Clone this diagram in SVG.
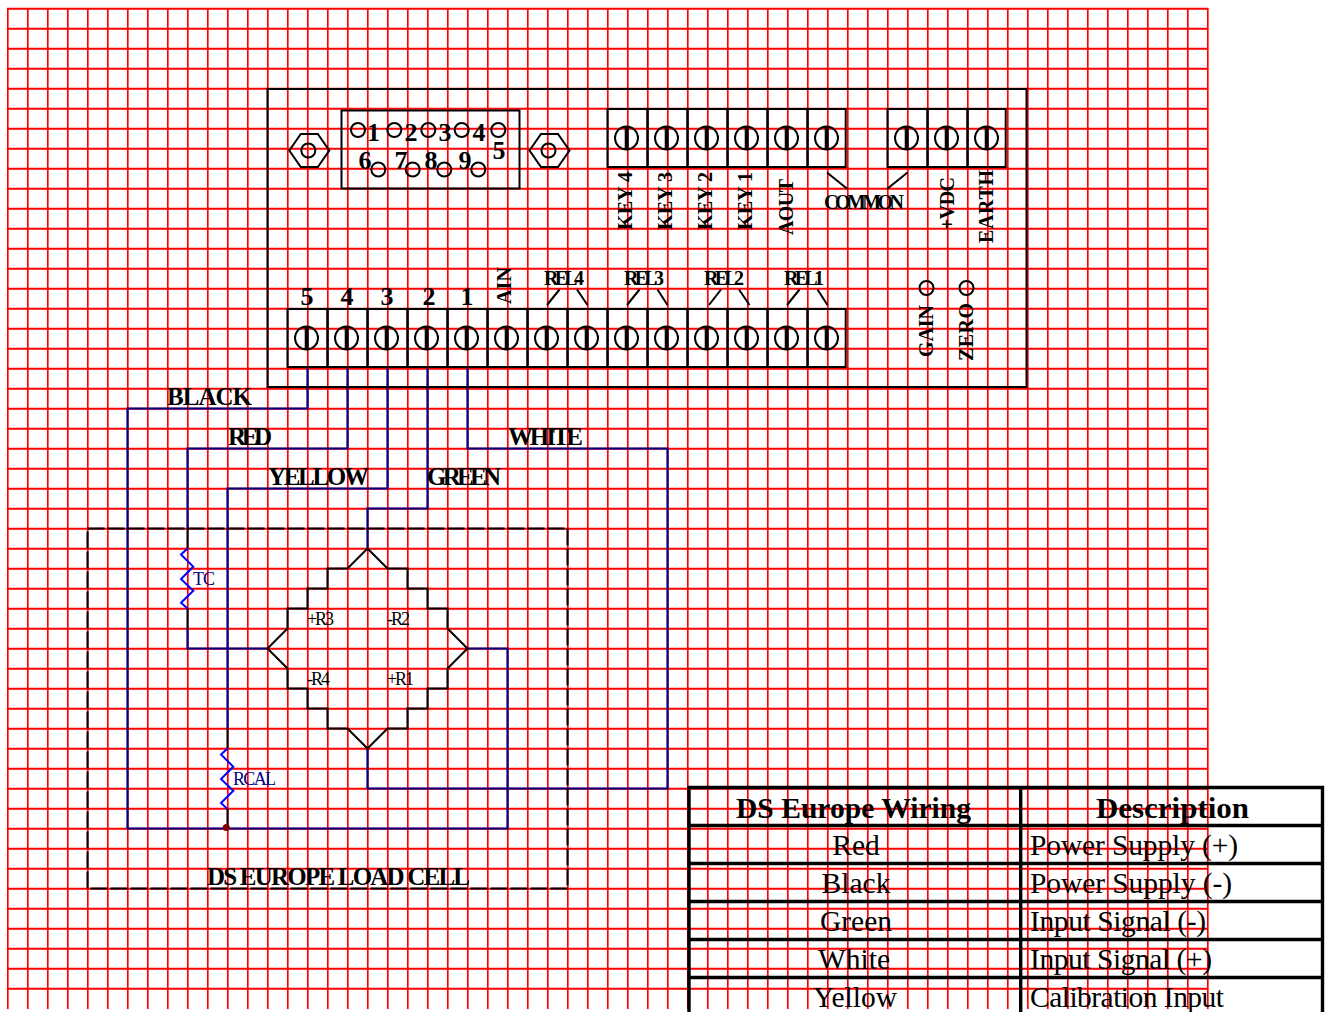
<svg xmlns="http://www.w3.org/2000/svg" width="1330" height="1012" viewBox="0 0 1330 1012">
<style>
text{font-family:"Liberation Serif","Times New Roman",serif;fill:#000}
.b{font-weight:bold}
.n{font-weight:bold;font-size:26px;text-anchor:middle}
.w{font-weight:bold;font-size:25px}
.v{font-weight:bold;font-size:20px}
.r{font-size:18px}
.bl{font-size:18px;fill:#000080}
.t{font-size:29.5px}
.h{font-size:30px}
.c{text-anchor:middle}
.k{fill:none;stroke:#000;stroke-width:2}
.wire{fill:none;stroke:#000080;stroke-width:2.2}
.res{fill:none;stroke:#0000ff;stroke-width:2}
.tb{stroke:#000;stroke-width:3.4;fill:none}
.grid{stroke:#f00;stroke-width:2;fill:none}
</style>
<defs>
<g id="screw"><circle cx="19" cy="29" r="11.5" class="k"/><line x1="19.2" y1="17" x2="19.2" y2="41" stroke="#000" stroke-width="4"/></g>
<g id="cell"><rect x="0" y="0" width="40" height="58" class="k"/><use href="#screw"/></g>
<g id="cell-end"><rect x="0" y="0" width="38.2" height="58" class="k"/><use href="#screw"/></g>
<g id="nut"><path d="M-20 0L-8.5-16.5H8.5L20 0L8.5 16.5H-8.5Z" class="k"/><circle cx="-1" cy="0" r="7" class="k"/></g>
</defs>
<g id="grid" class="grid">
<path id="grid-h" d="M7 8.7H1208M7 28.7H1208M7 48.7H1208M7 68.7H1208M7 88.7H1208M7 108.7H1208M7 128.7H1208M7 148.7H1208M7 168.7H1208M7 188.7H1208M7 208.7H1208M7 228.7H1208M7 248.7H1208M7 268.7H1208M7 288.7H1208M7 308.7H1208M7 328.7H1208M7 348.7H1208M7 368.7H1208M7 388.7H1208M7 408.7H1208M7 428.7H1208M7 448.7H1208M7 468.7H1208M7 488.7H1208M7 508.7H1208M7 528.7H1208M7 548.7H1208M7 568.7H1208M7 588.7H1208M7 608.7H1208M7 628.7H1208M7 648.7H1208M7 668.7H1208M7 688.7H1208M7 708.7H1208M7 728.7H1208M7 748.7H1208M7 768.7H1208M7 788.7H1208M7 808.7H1208M7 828.7H1208M7 848.7H1208M7 868.7H1208M7 888.7H1208M7 908.7H1208M7 928.7H1208M7 948.7H1208M7 968.7H1208M7 988.7H1208"/>
<path id="grid-v" stroke-width="1.7" d="M7.8 8V1009M27.8 8V1009M47.8 8V1009M67.8 8V1009M87.8 8V1009M107.8 8V1009M127.8 8V1009M147.8 8V1009M167.8 8V1009M187.8 8V1009M207.8 8V1009M227.8 8V1009M247.8 8V1009M267.8 8V1009M287.8 8V1009M307.8 8V1009M327.8 8V1009M347.8 8V1009M367.8 8V1009M387.8 8V1009M407.8 8V1009M427.8 8V1009M447.8 8V1009M467.8 8V1009M487.8 8V1009M507.8 8V1009M527.8 8V1009M547.8 8V1009M567.8 8V1009M587.8 8V1009M607.8 8V1009M627.8 8V1009M647.8 8V1009M667.8 8V1009M687.8 8V1009M707.8 8V1009M727.8 8V1009M747.8 8V1009M767.8 8V1009M787.8 8V1009M807.8 8V1009M827.8 8V1009M847.8 8V1009M867.8 8V1009M887.8 8V1009M907.8 8V1009M927.8 8V1009M947.8 8V1009M967.8 8V1009M987.8 8V1009M1007.8 8V1009M1027.8 8V1009M1047.8 8V1009M1067.8 8V1009M1087.8 8V1009M1107.8 8V1009M1127.8 8V1009M1147.8 8V1009M1167.8 8V1009M1187.8 8V1009M1207.8 8V1009"/>
</g>
<g id="table">
<path class="tb" d="M689 1012V787.5H1322.5V1012M1020.7 787.5V1012M689 825.5H1322.5M689 863.5H1322.5M689 901.5H1322.5M689 939.5H1322.5M689 977.5H1322.5"/>
<text class="h b" x="736" y="818" textLength="235" lengthAdjust="spacingAndGlyphs">DS Europe Wiring</text>
<text class="h b" x="1096" y="818" textLength="153" lengthAdjust="spacingAndGlyphs">Description</text>
<text class="t c" x="856" y="855">Red</text><text class="t" x="1030" y="855" textLength="208">Power Supply (+)</text>
<text class="t c" x="856" y="893">Black</text><text class="t" x="1030" y="893" textLength="202">Power Supply (-)</text>
<text class="t c" x="856" y="931">Green</text><text class="t" x="1030" y="931" textLength="176">Input Signal (-)</text>
<text class="t c" x="854" y="969">White</text><text class="t" x="1030" y="969" textLength="182">Input Signal (+)</text>
<text class="t c" x="855" y="1007">Yellow</text><text class="t" x="1030" y="1007" textLength="194">Calibration Input</text>
</g>
<g id="connectors">
<path class="wire" d="M307.5 367V408.5H127.5V828.5H507.5V648.5H467.5"/>
<path class="wire" d="M347.5 367V448.5H187.5V529"/>
<path class="k" d="M187.5 529V548.5"/>
<path class="k" d="M187.5 608V628"/>
<path class="wire" d="M187.5 628V648.5H267.5"/>
<path class="wire" d="M387.5 367V488.5H227.5V728"/>
<path class="k" d="M227.5 728V748.5M227.5 809V828"/>
<path class="wire" d="M427.5 367V508.5H367.5V548.5"/>
<path class="wire" d="M467.5 367V448.5H667.5V788.5H367.5V748.5"/>
<path class="res" d="M187.5 548.5L181 554.5L193.3 566.7L181 579L193.3 590.7L181 602.7L187.5 608.5"/>
<path class="res" d="M227.5 748.5L221 754.5L233.3 766.7L221 779L233.3 790.7L221 803L227.5 809"/>
<circle cx="226.3" cy="827.5" r="3.5" fill="#800000"/>
</g>
<g id="panel">
<rect x="267.5" y="89" width="759" height="298" class="k"/>
</g>
<g id="db9">
<rect x="341.5" y="110.5" width="178" height="78" class="k"/>
<g class="k"><circle cx="358" cy="130" r="7"/><circle cx="394.3" cy="130" r="7"/><circle cx="428.3" cy="130" r="7"/><circle cx="461.7" cy="130" r="7"/><circle cx="498.3" cy="130" r="7"/><circle cx="378.3" cy="169.5" r="7"/><circle cx="412.7" cy="169.5" r="7"/><circle cx="444.3" cy="169.5" r="7"/><circle cx="478.3" cy="169.5" r="7"/></g>
<text class="n" x="373.5" y="141">1</text><text class="n" x="411" y="141">2</text><text class="n" x="445" y="141">3</text><text class="n" x="479" y="141">4</text><text class="n" x="499" y="159">5</text>
<text class="n" x="365" y="169">6</text><text class="n" x="401" y="169">7</text><text class="n" x="431" y="169">8</text><text class="n" x="465" y="169">9</text>
</g>
<use id="nut-left" href="#nut" x="309.3" y="150.5"/>
<use id="nut-right" href="#nut" x="549.5" y="150.5"/>
<g id="terminals-top">
<use href="#cell" x="607.5" y="109"/><use href="#cell" x="647.5" y="109"/><use href="#cell" x="687.5" y="109"/><use href="#cell" x="727.5" y="109"/><use href="#cell" x="767.5" y="109"/><use href="#cell-end" x="807.5" y="109" /><use href="#cell" x="887.5" y="109"/><use href="#cell" x="927.5" y="109"/><use href="#cell-end" x="967.5" y="109"/>
</g>
<g id="terminals-bottom">
<use href="#cell" x="287.5" y="309"/><use href="#cell" x="327.5" y="309"/><use href="#cell" x="367.5" y="309"/><use href="#cell" x="407.5" y="309"/><use href="#cell" x="447.5" y="309"/><use href="#cell" x="487.5" y="309"/><use href="#cell" x="527.5" y="309"/><use href="#cell" x="567.5" y="309"/><use href="#cell" x="607.5" y="309"/><use href="#cell" x="647.5" y="309"/><use href="#cell" x="687.5" y="309"/><use href="#cell" x="727.5" y="309"/><use href="#cell" x="767.5" y="309"/><use href="#cell-end" x="807.5" y="309"/>
</g>
<g id="top-labels">
<text class="v" transform="translate(632 230) rotate(-90)" textLength="58" lengthAdjust="spacingAndGlyphs">KEY 4</text>
<text class="v" transform="translate(672 230) rotate(-90)" textLength="58" lengthAdjust="spacingAndGlyphs">KEY 3</text>
<text class="v" transform="translate(712 230) rotate(-90)" textLength="58" lengthAdjust="spacingAndGlyphs">KEY 2</text>
<text class="v" transform="translate(752 230) rotate(-90)" textLength="58" lengthAdjust="spacingAndGlyphs">KEY 1</text>
<text class="v" transform="translate(793 235) rotate(-90)" textLength="56" lengthAdjust="spacing">AOUT</text>
<text class="v" transform="translate(954 230) rotate(-90)" textLength="53" lengthAdjust="spacing">+VDC</text>
<text class="v" transform="translate(993 243) rotate(-90)" textLength="73" lengthAdjust="spacing">EARTH</text>
<text class="v" x="824" y="209" textLength="80" lengthAdjust="spacing">COMMON</text>
<path class="k" d="M827 172.5L847.5 189M907.5 172.5L887 189"/>
</g>
<g id="bottom-labels">
<text class="n" x="307" y="305">5</text><text class="n" x="347" y="305">4</text><text class="n" x="387" y="305">3</text><text class="n" x="429" y="305">2</text><text class="n" x="467" y="305">1</text>
<text class="v" transform="translate(511 304) rotate(-90)" textLength="37" lengthAdjust="spacing">AIN</text>
<text class="v" x="544" y="285" textLength="40" lengthAdjust="spacing">REL4</text>
<text class="v" x="624" y="285" textLength="40" lengthAdjust="spacing">REL3</text>
<text class="v" x="704" y="285" textLength="40" lengthAdjust="spacing">REL2</text>
<text class="v" x="784" y="285" textLength="40" lengthAdjust="spacing">REL1</text>
<path class="k" d="M547 305L559.5 289.5M577 289.5L587.5 305M627 305L639.5 289.5M657.5 289.5L667.5 305M709 305L721 289.5M739 289.5L749.5 305M787 305L799.5 289.5M817.5 289.5L827.5 305"/>
<circle class="k" cx="926.5" cy="288" r="7"/><circle class="k" cx="966.5" cy="288" r="7"/>
<text class="v" transform="translate(933 357) rotate(-90)" textLength="52" lengthAdjust="spacing">GAIN</text>
<text class="v" transform="translate(973 361) rotate(-90)" textLength="58" lengthAdjust="spacing">ZERO</text>
</g>
<g id="load-cell">
<rect x="87.5" y="528.5" width="480" height="360" class="k" stroke-dasharray="17 3"/>
<path id="bridge" class="k" d="M367.5 548.5L347.5 568.5H327.5V588.5H307.5V608.5H287.5V628.5L267.5 648.5L287.5 668.5V688.5H307.5V708.5H327.5V728.5H347.5L367.5 748.5L387.5 728.5H407.5V708.5H427.5V688.5H447.5V668.5L467.5 648.5L447.5 628.5V608.5H427.5V588.5H407.5V568.5H387.5Z"/>
<text class="r" x="307" y="625" textLength="27" lengthAdjust="spacing">+R3</text>
<text class="r" x="387" y="625" textLength="23" lengthAdjust="spacing">-R2</text>
<text class="r" x="307" y="685" textLength="23" lengthAdjust="spacing">-R4</text>
<text class="r" x="387" y="685" textLength="27" lengthAdjust="spacing">+R1</text>
<text class="bl" x="193" y="585" textLength="22" lengthAdjust="spacing">TC</text>
<text class="bl" x="233" y="785" textLength="43" lengthAdjust="spacing">RCAL</text>
<text class="w" x="207" y="885" textLength="263" lengthAdjust="spacing">DS EUROPE LOAD CELL</text>
</g>
<g id="wire-labels">
<text class="w" x="167" y="405" textLength="85" lengthAdjust="spacing">BLACK</text>
<text class="w" x="228" y="445" textLength="44" lengthAdjust="spacing">RED</text>
<text class="w" x="268" y="485" textLength="101" lengthAdjust="spacing">YELLOW</text>
<text class="w" x="427" y="485" textLength="74" lengthAdjust="spacing">GREEN</text>
<text class="w" x="508" y="445" textLength="75" lengthAdjust="spacing">WHITE</text>
</g>
</svg>
